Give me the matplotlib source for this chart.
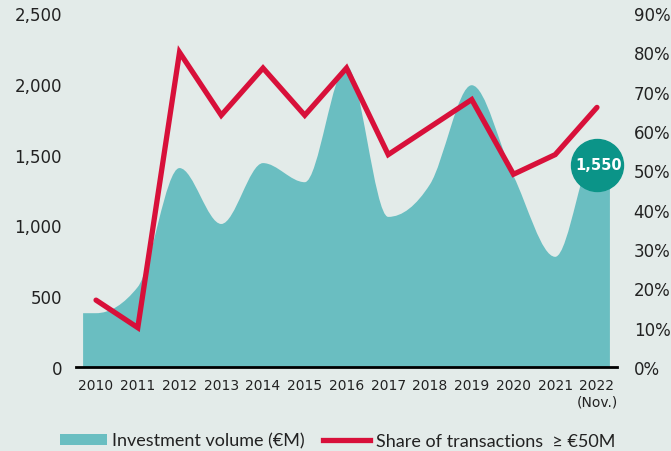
import numpy as np
import matplotlib.pyplot as plt
from matplotlib.path import Path
from matplotlib.patches import PathPatch, Patch
from matplotlib.lines import Line2D

# data
years = ["2010", "2011", "2012", "2013", "2014", "2015", "2016",
         "2017", "2018", "2019", "2020", "2021", "2022\n(Nov.)"]
volume = [380, 565, 1405, 1010, 1440, 1305, 2125, 1060, 1290, 1990, 1350, 778, 1550]
share = [17, 10, 80, 64, 76, 64, 76, 54, 61, 68, 49, 54, 66]
latest_label = "1,550"

left_ticks = [0, 500, 1000, 1500, 2000, 2500]
right_ticks = [0, 10, 20, 30, 40, 50, 60, 70, 80, 90]

BG = "#e3ebe9"
TEAL = "#6abec1"
RED = "#d8103a"
DARK_TEAL = "#0b9488"
TEXT = "#222222"
AREA_PAD = 0.31  # area runs a bit past the first/last year


def monotone_path(x, y):
    """Cubic bezier path through the points (d3 monotoneX style)."""
    x = np.asarray(x, float)
    y = np.asarray(y, float)
    n = len(x)
    h = np.diff(x)
    s = np.diff(y) / h
    t = np.zeros(n)
    for i in range(1, n - 1):
        p = (s[i - 1] * h[i] + s[i] * h[i - 1]) / (h[i - 1] + h[i])
        sg = (1 if s[i - 1] >= 0 else -1) + (1 if s[i] >= 0 else -1)
        t[i] = sg * min(abs(s[i - 1]), abs(s[i]), 0.5 * abs(p))
    t[0] = (3 * s[0] - t[1]) / 2
    t[-1] = (3 * s[-1] - t[-2]) / 2
    verts = [(x[0], 0), (x[0], y[0])]
    codes = [Path.MOVETO, Path.LINETO]
    for i in range(n - 1):
        d = h[i] / 3
        verts += [(x[i] + d, y[i] + t[i] * d),
                  (x[i + 1] - d, y[i + 1] - t[i + 1] * d),
                  (x[i + 1], y[i + 1])]
        codes += [Path.CURVE4] * 3
    verts += [(x[-1], 0), (x[0], 0)]
    codes += [Path.LINETO, Path.CLOSEPOLY]
    return Path(verts, codes)


xs = np.arange(len(years))

fig = plt.figure(figsize=(6.71, 4.52), dpi=100, facecolor=BG)
ax = fig.add_axes([76 / 671, 1 - 368 / 452, 541 / 671, 354 / 452])
ax.set_facecolor(BG)
ax2 = ax.twinx()
ax2.patch.set_visible(False)

# investment volume area
ax_x = np.concatenate([[xs[0] - AREA_PAD], xs, [xs[-1] + AREA_PAD]])
ax_y = np.concatenate([[volume[0]], volume, [volume[-1]]])
ax.add_patch(PathPatch(monotone_path(ax_x, ax_y), fc=TEAL, ec="none", zorder=1))

# share of large transactions
ax2.plot(xs, share, color=RED, lw=3.8, solid_joinstyle="miter",
         solid_capstyle="round", zorder=3)

# latest value badge
ax2.scatter([xs[-1]], [volume[-1] - 120], s=1400, color=DARK_TEAL,
            transform=ax.transData, zorder=5, clip_on=False)
ax2.text(xs[-1] + 0.03, volume[-1] - 120, latest_label, transform=ax.transData,
         ha="center", va="center", color="white", fontsize=10.5,
         fontweight="bold", zorder=6)

ax.set_xlim(-0.48, 12.48)
ax.set_ylim(0, 2500)
ax2.set_ylim(0, 90)

ax.set_xticks(xs)
ax.set_xticklabels(years, fontsize=10, color=TEXT)
ax.set_yticks(left_ticks)
ax.set_yticklabels([f"{v:,}" for v in left_ticks], fontsize=12, color=TEXT)
ax2.set_yticks(right_ticks)
ax2.set_yticklabels([f"{v}%" for v in right_ticks], fontsize=12, color=TEXT)

ax.tick_params(axis="x", length=0, pad=8)
ax.tick_params(axis="y", length=0, pad=10)
ax2.tick_params(axis="y", length=0, pad=12)

for a in (ax, ax2):
    for side in ("top", "left", "right", "bottom"):
        a.spines[side].set_visible(False)
ax.spines["bottom"].set_visible(True)
ax.spines["bottom"].set_color("black")
ax.spines["bottom"].set_linewidth(2)
ax.spines["bottom"].set_zorder(4)

handles = [Patch(facecolor=TEAL, edgecolor="none"),
           Line2D([], [], color=RED, lw=3.8)]
labels = ["Investment volume (\u20acM)", "Share of transactions  \u2265 \u20ac50M"]
fig.legend(handles, labels, loc="center", bbox_to_anchor=(0.503, 0.023),
           ncol=2, frameon=False, handlelength=2.6, handleheight=0.55,
           handletextpad=0.3, columnspacing=1.0,
           prop={"family": ["Lato", "DejaVu Sans"], "size": 13},
           labelcolor=TEXT)

fig.savefig("out.png", dpi=100, facecolor=BG)
